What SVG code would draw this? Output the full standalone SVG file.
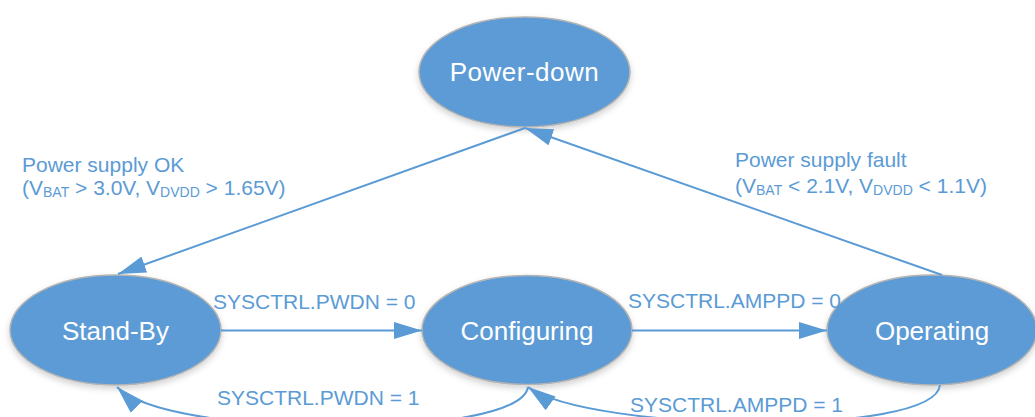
<svg xmlns="http://www.w3.org/2000/svg" width="1035" height="417" viewBox="0 0 1035 417">
  <style>
    .node ellipse { fill: #5B9BD5; stroke: #B4B4B4; stroke-width: 1.5; filter: url(#shadow); }
    .node text { fill: #FFFFFF; font-family: "Liberation Sans", Arial, sans-serif; font-size: 26px; text-anchor: middle; }
    .edge { fill: none; stroke: #5B9BD5; stroke-width: 2; marker-end: url(#arrow); }
    .lbl { fill: #5B9BD5; font-family: "Liberation Sans", Arial, sans-serif; font-size: 21px; }
    .sub { font-size: 14px; }
  </style>
  <defs>
    <filter id="shadow" x="-20%" y="-20%" width="140%" height="150%">
      <feDropShadow dx="0" dy="3" stdDeviation="3" flood-color="#000000" flood-opacity="0.18"/>
    </filter>
    <marker id="arrow" markerUnits="userSpaceOnUse" markerWidth="30" markerHeight="18" refX="28" refY="8.5" orient="auto">
      <path d="M0,0 L28,8.5 L0,17 z" fill="#5B9BD5"/>
    </marker>
  </defs>

  <rect width="1035" height="417" fill="#FFFFFF"/>

  <g id="node-powerdown" class="node">
    <ellipse cx="524.5" cy="72" rx="105.5" ry="55"/>
    <text x="524.5" y="81" letter-spacing="0.5">Power-down</text>
  </g>
  <g id="node-standby" class="node">
    <ellipse cx="115.5" cy="330" rx="105.5" ry="55"/>
    <text x="115.5" y="340">Stand-By</text>
  </g>
  <g id="node-configuring" class="node">
    <ellipse cx="527" cy="330" rx="105" ry="54.5"/>
    <text x="527" y="340">Configuring</text>
  </g>
  <g id="node-operating" class="node">
    <ellipse cx="932" cy="330" rx="105" ry="55"/>
    <text x="932" y="340">Operating</text>
  </g>

  <g id="connectors">
    <path class="edge" d="M525,128 L118,274"/>
    <path class="edge" d="M942,275 L525,128"/>
    <path class="edge" d="M221,330.5 L422,330.5"/>
    <path class="edge" d="M632,330.5 L827,330.5"/>
    <path class="edge" d="M528,387 C520,440 170,440 117,387"/>
    <path class="edge" d="M940,385 C935,438 590,432 528,387"/>
  </g>

  <g id="labels">
    <text class="lbl" x="22" y="172">Power supply OK</text>
    <text class="lbl" x="22" y="195">(V<tspan class="sub" dy="2">BAT</tspan><tspan dy="-2"> &gt; 3.0V, V</tspan><tspan class="sub" dy="2">DVDD</tspan><tspan dy="-2"> &gt; 1.65V)</tspan></text>
    <text class="lbl" x="735" y="167">Power supply fault</text>
    <text class="lbl" x="735" y="193">(V<tspan class="sub" dy="2">BAT</tspan><tspan dy="-2"> &lt; 2.1V, V</tspan><tspan class="sub" dy="2">DVDD</tspan><tspan dy="-2"> &lt; 1.1V)</tspan></text>
    <text class="lbl" x="213" y="309">SYSCTRL.PWDN = 0</text>
    <text class="lbl" x="217" y="405">SYSCTRL.PWDN = 1</text>
    <text class="lbl" x="628" y="308">SYSCTRL.AMPPD = 0</text>
    <text class="lbl" x="630" y="412">SYSCTRL.AMPPD = 1</text>
  </g>
</svg>
